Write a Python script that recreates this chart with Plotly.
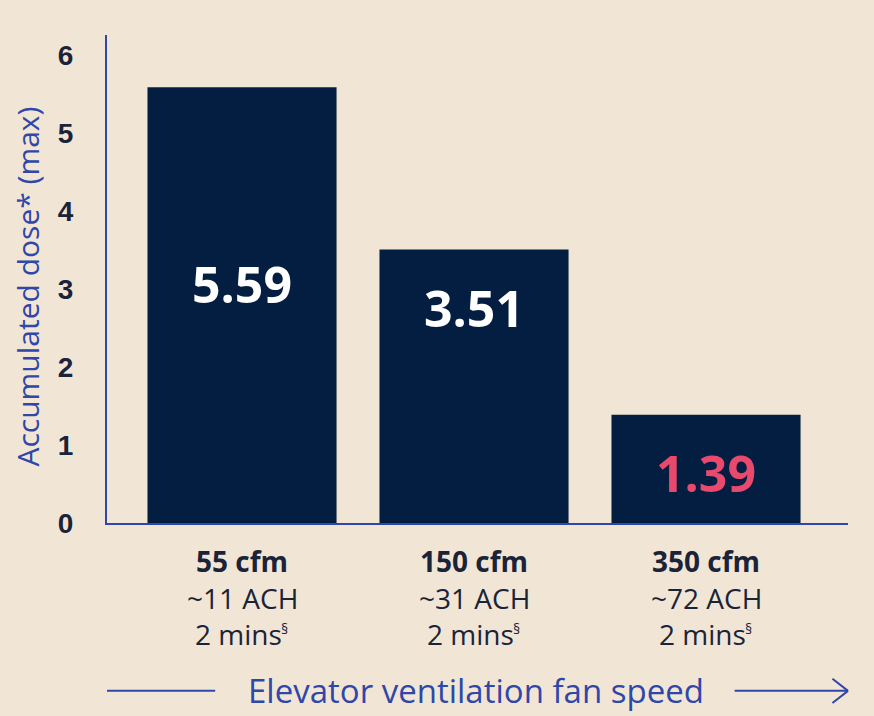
import plotly.graph_objects as go

# Data
fan_speed = ["55 cfm", "150 cfm", "350 cfm"]
air_changes = ["~11 ACH", "~31 ACH", "~72 ACH"]
duration = ["2 mins", "2 mins", "2 mins"]
dose = [5.59, 3.51, 1.39]
label_colors = ["#ffffff", "#ffffff", "#e8496c"]
label_y = [3.07, 2.76, 0.64]  # vertical placement of the value labels (data units)

BG = "#f1e6d5"
NAVY = "#041e42"
BLUE = "#2f47a8"
TEXT = "#1b2339"
FONT = "Open Sans"
CAT_SIZE = 28

x_idx = list(range(len(fan_speed)))

fig = go.Figure(go.Bar(
    x=x_idx, y=dose, width=0.815,
    marker=dict(color=NAVY, line=dict(width=0)),
    hoverinfo="skip",
))

ann = []
for i, v in enumerate(dose):
    ann.append(dict(x=i, y=label_y[i], xref="x", yref="y", yanchor="middle",
                    text=f"<b>{v:.2f}</b>", showarrow=False,
                    font=dict(family=FONT, size=50, color=label_colors[i])))
    ann.append(dict(x=i, y=0, xref="x", yref="paper", yanchor="middle", yshift=-38,
                    text=f"<b>{fan_speed[i]}</b>", showarrow=False,
                    font=dict(family=FONT, size=CAT_SIZE, color=TEXT)))
    ann.append(dict(x=i, y=0, xref="x", yref="paper", yanchor="middle", yshift=-75,
                    text=air_changes[i], showarrow=False,
                    font=dict(family=FONT, size=CAT_SIZE, color=TEXT)))
    ann.append(dict(x=i, y=0, xref="x", yref="paper", yanchor="middle", yshift=-111, xshift=-4,
                    text=duration[i], showarrow=False,
                    font=dict(family=FONT, size=CAT_SIZE, color=TEXT)))
    # section mark footnote, set small and raised beside the duration
    ann.append(dict(x=i, y=0, xref="x", yref="paper", xanchor="left", yanchor="middle",
                    yshift=-105, xshift=37, text="§", showarrow=False,
                    font=dict(family=FONT, size=14, color=TEXT)))

ann.append(dict(x=-0.107, y=0.484, xref="paper", yref="paper", xanchor="center", yanchor="middle",
                text="Accumulated dose* (max)", textangle=-90, showarrow=False,
                font=dict(family=FONT, size=30, color=BLUE)))
ann.append(dict(x=0.498, y=-0.344, xref="paper", yref="paper", xanchor="center", yanchor="middle",
                text="Elevator ventilation fan speed", showarrow=False,
                font=dict(family=FONT, size=33, color=BLUE)))

ay = -0.344
shapes = [
    dict(type="line", xref="paper", yref="paper", x0=0.0, x1=0.146, y0=ay, y1=ay,
         line=dict(color=BLUE, width=2)),
    dict(type="line", xref="paper", yref="paper", x0=0.847, x1=1.0, y0=ay, y1=ay,
         line=dict(color=BLUE, width=2)),
    dict(type="line", xref="paper", yref="paper", x0=0.979, x1=1.0, y0=ay + 0.025, y1=ay,
         line=dict(color=BLUE, width=2)),
    dict(type="line", xref="paper", yref="paper", x0=0.979, x1=1.0, y0=ay - 0.025, y1=ay,
         line=dict(color=BLUE, width=2)),
]

fig.update_layout(
    width=874, height=716,
    margin=dict(l=107, r=26, t=35, b=193),
    paper_bgcolor=BG, plot_bgcolor=BG,
    showlegend=False,
    annotations=ann, shapes=shapes,
    xaxis=dict(range=[-0.582, 2.612], showticklabels=False, showgrid=False, zeroline=False,
               showline=True, linecolor=BLUE, linewidth=2, ticks=""),
    yaxis=dict(range=[0, 6.26], tickvals=[0, 1, 2, 3, 4, 5, 6], showgrid=False, zeroline=False,
               showline=True, linecolor=BLUE, linewidth=2, ticks="",
               tickfont=dict(family="Liberation Sans", size=28, color=TEXT, weight="bold"),
               ticklabelstandoff=26),
)

fig.write_html("out.html")
